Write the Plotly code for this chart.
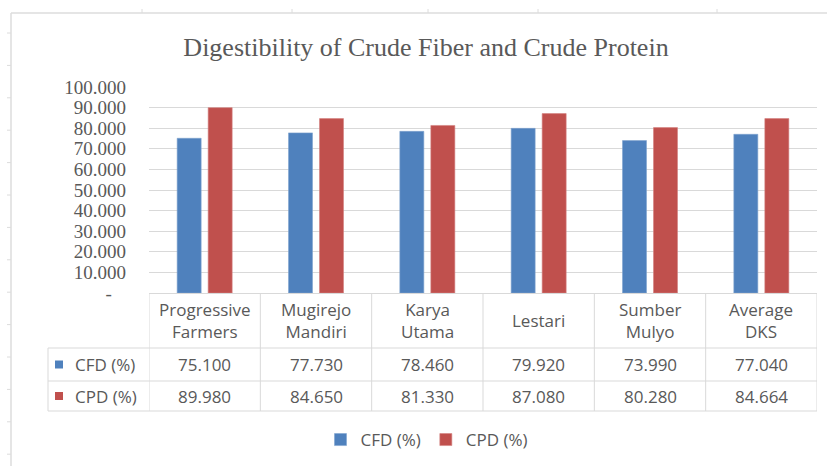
import plotly.graph_objects as go

# ---------------- data ----------------
categories = ["Progressive<br>Farmers", "Mugirejo<br>Mandiri", "Karya<br>Utama",
              "Lestari", "Sumber<br>Mulyo", "Average<br>DKS"]
cfd_values = [75.100, 77.730, 78.460, 79.920, 73.990, 77.040]
cpd_values = [89.980, 84.650, 81.330, 87.080, 80.280, 84.664]
series_names = ["CFD (%)", "CPD (%)"]
y_tick_values = [0, 10, 20, 30, 40, 50, 60, 70, 80, 90, 100]
y_tick_labels = ["-", "10.000", "20.000", "30.000", "40.000", "50.000",
                 "60.000", "70.000", "80.000", "90.000", "100.000"]
title_text = "Digestibility of Crude Fiber and Crude Protein"

# ---------------- styling ----------------
W, H = 827, 466
BLUE, RED = "#4F81BD", "#C0504D"
TXT = "#595959"
GRID = "#D9D9D9"
SANS = "Open Sans"
SERIF = "Liberation Serif"


def fx(p):
    return p / W


def fy(p):
    return 1 - p / H


fig = go.Figure()
series = [(series_names[0], cfd_values, BLUE, "#7FA3CF"),
          (series_names[1], cpd_values, RED, "#D3827F")]
for name, vals, col, edge in series:
    fig.add_trace(go.Bar(x=list(range(len(categories))), y=vals, name=name,
                         marker=dict(color=col, line=dict(color=edge, width=0.6))))

# y tick labels ("-" padded like accounting format)
ticktext = [t if t != "-" else "-\u00a0\u00a0\u00a0" for t in y_tick_labels]

shapes = []
annotations = []

# table geometry (pixels)
row_top, hdr_bot, r1_bot, r2_bot = 293.5, 348, 381, 411
legend_left = 48

# horizontal table lines
shapes.append(dict(type="line", xref="x", yref="paper", x0=-0.5, x1=len(categories) - 0.5,
                   y0=fy(row_top), y1=fy(row_top), line=dict(color=GRID, width=1)))
for yy in (hdr_bot, r1_bot, r2_bot):
    shapes.append(dict(type="line", xref="paper", yref="paper", x0=fx(legend_left), x1=fx(817),
                       y0=fy(yy), y1=fy(yy), line=dict(color=GRID, width=1)))
# vertical table lines
for i in range(len(categories) + 1):
    shapes.append(dict(type="line", xref="x", yref="paper", x0=i - 0.5, x1=i - 0.5,
                       y0=fy(row_top), y1=fy(r2_bot), line=dict(color=GRID, width=1)))
shapes.append(dict(type="line", xref="paper", yref="paper", x0=fx(legend_left), x1=fx(legend_left),
                   y0=fy(hdr_bot), y1=fy(r2_bot), line=dict(color=GRID, width=1)))

# header text
for i, c in enumerate(categories):
    annotations.append(dict(xref="x", yref="paper", x=i, y=fy((row_top + hdr_bot) / 2),
                            text=c, showarrow=False, font=dict(family=SANS, size=17, color=TXT),
                            xanchor="center", yanchor="middle"))
# data rows
rows = [(series_names[0], cfd_values, BLUE, hdr_bot, r1_bot),
        (series_names[1], cpd_values, RED, r1_bot, r2_bot)]
for name, vals, col, y0, y1 in rows:
    yc = (y0 + y1) / 2
    shapes.append(dict(type="rect", xref="paper", yref="paper", x0=fx(55), x1=fx(63),
                       y0=fy(yc + 4), y1=fy(yc - 4), fillcolor=col, line=dict(width=0)))
    annotations.append(dict(xref="paper", yref="paper", x=fx(73), y=fy(yc), text=name,
                            showarrow=False, font=dict(family=SANS, size=17, color=TXT),
                            xanchor="left", yanchor="middle"))
    for i, v in enumerate(vals):
        annotations.append(dict(xref="x", yref="paper", x=i, y=fy(yc), text=f"{v:.3f}",
                                showarrow=False, font=dict(family=SANS, size=17, color=TXT),
                                xanchor="center", yanchor="middle"))

# chart frame & spreadsheet cell marks
FR = "#DCDCDC"
shapes.append(dict(type="line", xref="paper", yref="paper", x0=fx(11), x1=1,
                   y0=fy(13), y1=fy(13), line=dict(color=FR, width=1.5)))
shapes.append(dict(type="line", xref="paper", yref="paper", x0=fx(11), x1=fx(11),
                   y0=fy(13), y1=0, line=dict(color=FR, width=1.5)))
for xx in (142, 292, 428, 538, 717):
    shapes.append(dict(type="line", xref="paper", yref="paper", x0=fx(xx), x1=fx(xx),
                       y0=fy(9), y1=fy(13), line=dict(color=FR, width=1)))
for k in range(14):
    yy = 33 + 32.4 * k
    shapes.append(dict(type="line", xref="paper", yref="paper", x0=fx(7), x1=fx(11),
                       y0=fy(yy), y1=fy(yy), line=dict(color=FR, width=1)))

fig.update_layout(
    width=W, height=H, autosize=False,
    margin=dict(l=0, r=0, t=0, b=0, autoexpand=False),
    paper_bgcolor="white", plot_bgcolor="white",
    title=dict(text=title_text, x=fx(426), xanchor="center", y=fy(47), yanchor="middle",
               yref="container", font=dict(family=SERIF, size=26, color=TXT)),
    barmode="group", bargap=0.443, bargroupgap=0.226,
    xaxis=dict(domain=[fx(149), fx(817)], range=[-0.5, len(categories) - 0.5],
               showticklabels=False, showgrid=False, zeroline=False, showline=False, ticks=""),
    yaxis=dict(domain=[fy(293), fy(87)], range=[0, 100], tickvals=y_tick_values,
               ticktext=ticktext, showgrid=True, gridcolor=GRID, gridwidth=1,
               zeroline=False, showline=False, ticks="", ticklabelstandoff=22,
               automargin=False,
               tickfont=dict(family=SERIF, size=19, color=TXT)),
    showlegend=True,
    legend=dict(orientation="h", x=fx(427), xanchor="center", y=fy(440), yanchor="middle",
                font=dict(family=SANS, size=17, color=TXT), traceorder="normal",
                bgcolor="rgba(0,0,0,0)", itemwidth=30),
    shapes=shapes, annotations=annotations,
)

fig.write_html("out.html", config={"displayModeBar": False},
               post_script="document.body.style.margin='0';document.body.style.overflow='hidden';")
